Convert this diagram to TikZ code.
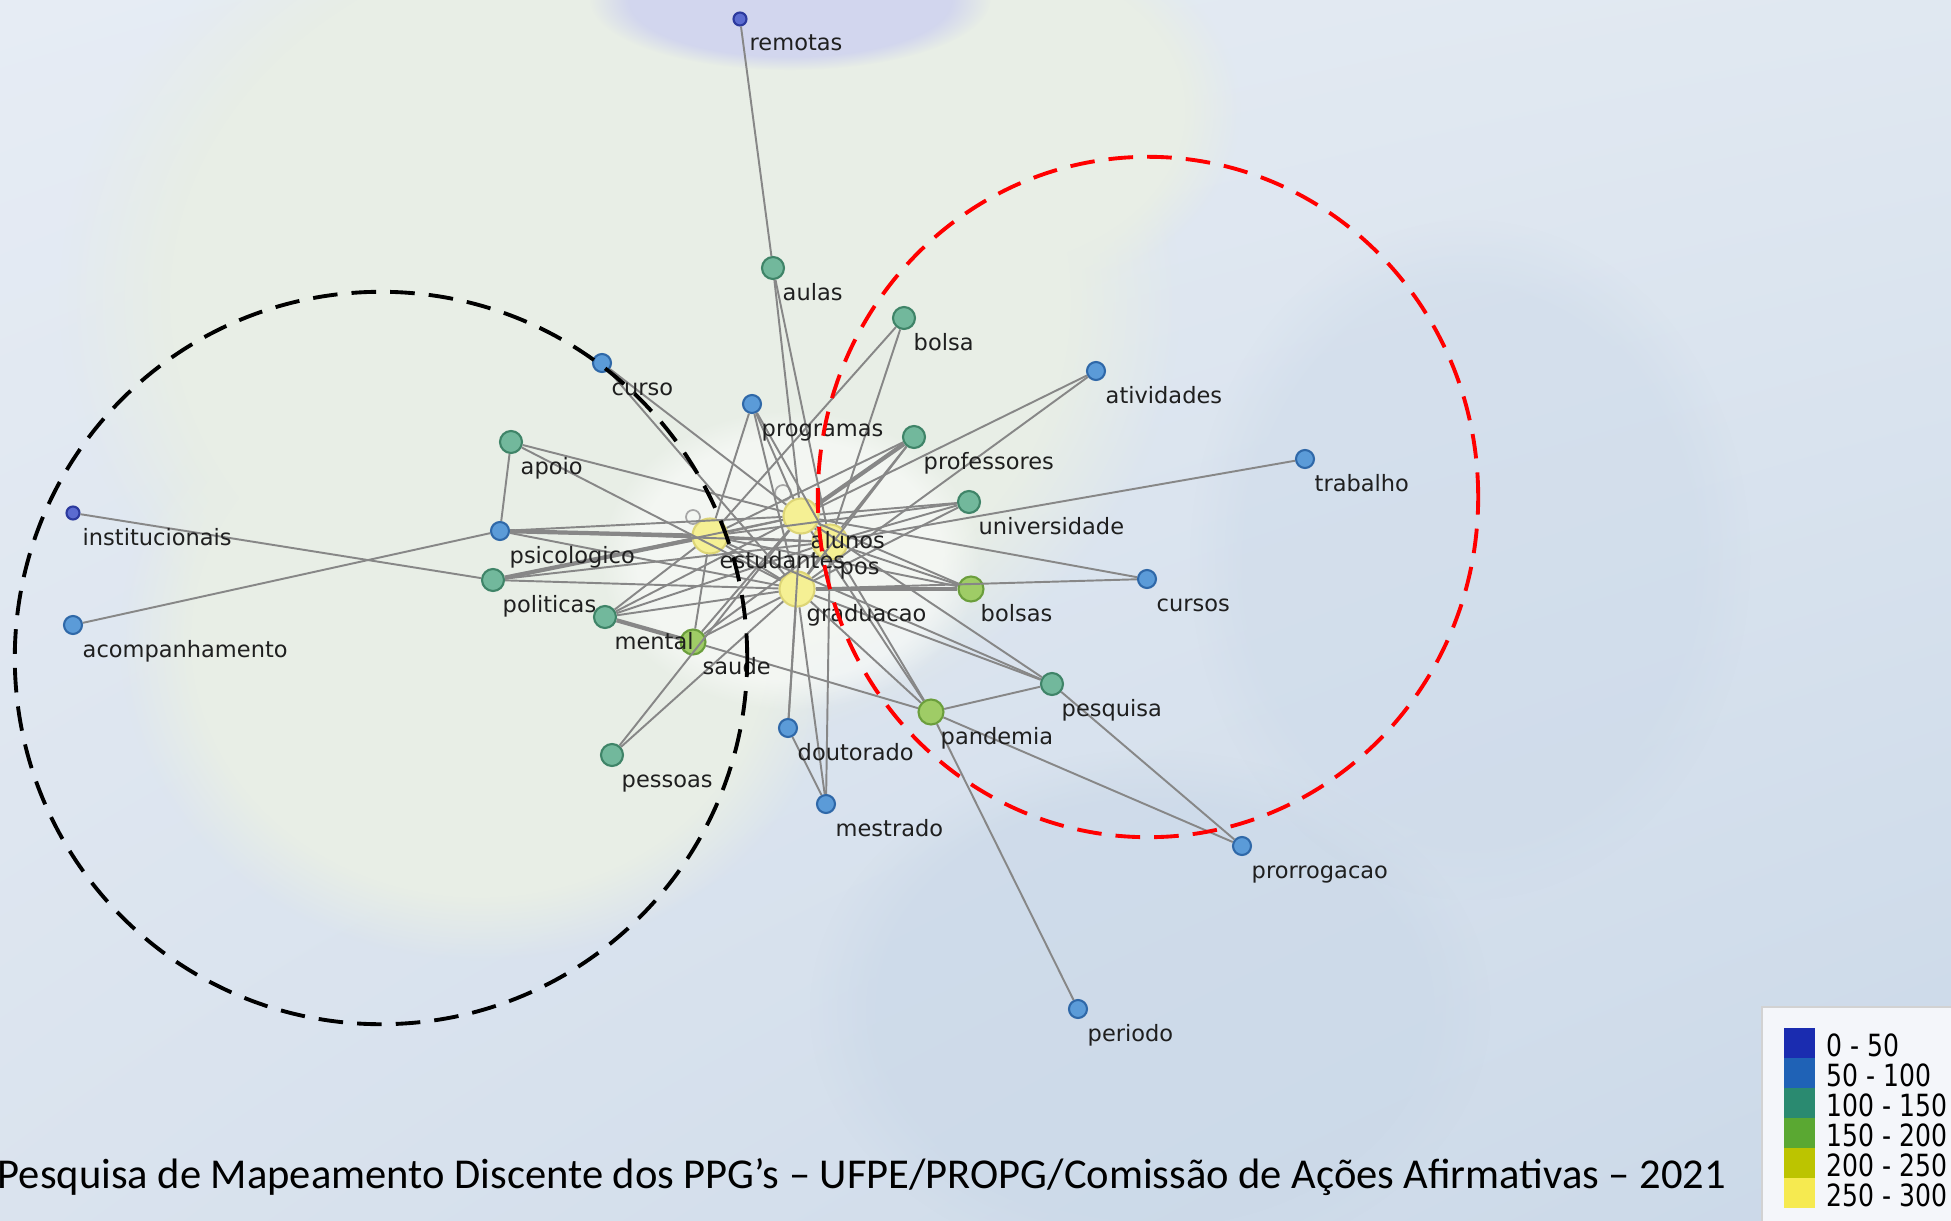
\documentclass[tikz,border=0pt]{standalone}
\usepackage{fontspec}
\setmainfont{DejaVu Sans}
\newfontfamily\capfont{Carlito}
\newfontfamily\legfont[FakeStretch=0.82]{DejaVu Sans}
\usetikzlibrary{fadings,shadings}

\definecolor{bgtl}{HTML}{E6ECF4}
\definecolor{bgtr}{HTML}{E0E8F1}
\definecolor{bgbl}{HTML}{DAE3EE}
\definecolor{bgbr}{HTML}{CAD8E8}
\definecolor{cloud}{HTML}{E8EEE6}
\definecolor{topblob}{HTML}{D2D6EE}
\definecolor{edgegray}{HTML}{878787}
\definecolor{c0}{HTML}{5B6BD0}\definecolor{d0}{HTML}{2C3A9E}
\definecolor{c1}{HTML}{5B9BD8}\definecolor{d1}{HTML}{2F68A8}
\definecolor{c2}{HTML}{72B89C}\definecolor{d2}{HTML}{3F8468}
\definecolor{c3}{HTML}{9FCC66}\definecolor{d3}{HTML}{6B9E3C}
\definecolor{c5}{HTML}{F6EF84}\definecolor{d5}{HTML}{DDD576}
\definecolor{lg1}{HTML}{1A2CB0}
\definecolor{lg2}{HTML}{1F62B6}
\definecolor{lg3}{HTML}{2A8A70}
\definecolor{lg4}{HTML}{5AA832}
\definecolor{lg5}{HTML}{BCC400}
\definecolor{lg6}{HTML}{F6EA50}

\tikzset{
  vtx/.style={circle, inner sep=0pt, line width=0.6pt},
  n0/.style={vtx, fill=c0, draw=d0, minimum size=0.13cm},
  n1/.style={vtx, fill=c1, draw=d1, minimum size=0.18cm},
  n2/.style={vtx, fill=c2, draw=d2, minimum size=0.22cm},
  n3/.style={vtx, fill=c3, draw=d3, minimum size=0.25cm},
  n5/.style={vtx, fill=c5, draw=d5, fill opacity=0.85, minimum size=0.35cm},
  edge/.style={draw=edgegray, line width=0.55pt},
  edgeb/.style={draw=edgegray, line width=1.2pt},
  loopc/.style={draw=gray!70, line width=0.5pt},
  lbl/.style={anchor=base west, inner sep=0pt, text=black!88, font=\fontsize{6.4}{7.5}\selectfont},
  ring/.style={line width=1.1pt, dash pattern=on 7pt off 4pt},
  blob/.style={path fading=circle with fuzzy edge 20 percent}
}

\begin{document}
\begin{tikzpicture}[x=0.01cm, y=-0.01cm]
\useasboundingbox (0,0) rectangle (1951,1221);
\clip (0,0) rectangle (1951,1221);

% background map
\shade[upper left=bgtl, upper right=bgtr, lower left=bgbl, lower right=bgbr] (0,0) rectangle (1951,1221);
\fill[bgbr, opacity=0.6, blob] (1150,1010) ellipse (3.4cm and 2.6cm);
\fill[bgbr, opacity=0.4, blob] (1470,560) ellipse (2.8cm and 3.4cm);
\fill[cloud, blob] (620,300) ellipse (5.6cm and 4.6cm);
\fill[cloud, blob] (480,640) ellipse (3.6cm and 3.2cm);
\fill[cloud, blob] (960,110) ellipse (2.8cm and 2.0cm);
\fill[white, opacity=0.5, blob] (790,560) ellipse (1.9cm and 1.5cm);
\fill[topblob, blob] (790,0) ellipse (2.0cm and 0.7cm);

% vertices
\foreach \n/\x/\y/\s in {remotas/740/19/n0, aulas/773/268/n2, bolsa/904/318/n2,
    curso/602/363/n1, atividades/1096/371/n1, programas/752/404/n1, apoio/511/442/n2,
    professores/914/437/n2, trabalho/1305/459/n1, universidade/969/502/n2,
    institucionais/73/513/n0, psicologico/500/531/n1, politicas/493/580/n2,
    cursos/1147/579/n1, bolsas/971/589/n3, acompanhamento/73/625/n1,
    mental/605/617/n2, saude/693/642/n3, pesquisa/1052/684/n2, pandemia/931/712/n3,
    doutorado/788/728/n1, pessoas/612/755/n2, mestrado/826/804/n1,
    prorrogacao/1242/846/n1, periodo/1078/1009/n1,
    estudantes/710/536/n5, pos/830/542/n5, alunos/801/516/n5, graduacao/797/589/n5}
  \node[\s] (\n) at (\x,\y) {};

% small loops
\draw[loopc] ([shift={(-17,-19)}]estudantes.center) circle (0.07cm);
\draw[loopc] ([shift={(-18,-23)}]alunos.center) circle (0.08cm);

% links
\foreach \a/\b in {remotas/aulas, aulas/alunos, aulas/pos, bolsa/estudantes, bolsa/pos,
    curso/alunos, curso/graduacao, programas/alunos, programas/estudantes, programas/pos,
    programas/graduacao, apoio/psicologico, apoio/alunos, apoio/graduacao,
    professores/estudantes, professores/pos, professores/graduacao,
    atividades/alunos, atividades/graduacao, universidade/estudantes, universidade/alunos,
    universidade/pos, universidade/graduacao, trabalho/pos, cursos/alunos, cursos/graduacao,
    bolsas/estudantes, bolsas/alunos, bolsas/pos, institucionais/politicas,
    acompanhamento/psicologico, psicologico/alunos, psicologico/pos, psicologico/graduacao,
    politicas/alunos, politicas/pos, politicas/graduacao, mental/estudantes, mental/alunos,
    mental/pos, mental/graduacao, saude/estudantes, saude/alunos, saude/pos, saude/graduacao,
    saude/pandemia, pessoas/alunos, pessoas/graduacao, doutorado/graduacao, doutorado/alunos,
    doutorado/mestrado, mestrado/graduacao, mestrado/pos, pandemia/alunos, pandemia/pos,
    pandemia/graduacao, pandemia/pesquisa, pandemia/prorrogacao, pandemia/periodo,
    pesquisa/estudantes, pesquisa/alunos, pesquisa/graduacao, pesquisa/prorrogacao,
    estudantes/alunos, estudantes/pos, estudantes/graduacao, alunos/pos, alunos/graduacao,
    pos/graduacao}
  \draw[edge] (\a) -- (\b);
\foreach \a/\b in {mental/saude, professores/alunos, psicologico/estudantes,
    bolsas/graduacao, politicas/estudantes}
  \draw[edgeb] (\a) -- (\b);

% labels
\foreach \n in {remotas, aulas, bolsa, curso, atividades, programas, apoio, professores,
    trabalho, universidade, institucionais, psicologico, politicas, cursos, bolsas,
    acompanhamento, mental, saude, pesquisa, pandemia, doutorado, pessoas, mestrado,
    prorrogacao, periodo, estudantes, alunos, pos, graduacao}
  \node[lbl] at ([shift={(9,32)}]\n.center) {\n};

% groups
\draw[ring, black] (381,658) circle (3.66cm);
\draw[ring, red] (1148,497) ellipse (3.30cm and 3.40cm);

% legend
\draw[fill=white!55!bgtl, draw=gray!35, line width=0.5pt] (1762,1007) rectangle (1990,1250);
\foreach \c/\t [count=\i] in {lg1/0 - 50, lg2/50 - 100, lg3/100 - 150, lg4/150 - 200,
    lg5/200 - 250, lg6/250 - 300} {
  \fill[\c] (1784,998+30*\i) rectangle (1815,1028+30*\i);
  \node[anchor=west, inner sep=0pt, font=\legfont\fontsize{8.7}{9}\selectfont]
    at (1826,1015+30*\i) {\t};
}

% source line
\node[anchor=base west, inner sep=0pt, font=\capfont\fontsize{12.1}{14}\selectfont]
  at (-3,1188) {Pesquisa de Mapeamento Discente dos PPG’s – UFPE/PROPG/Comissão de Ações Afirmativas – 2021};
\end{tikzpicture}
\end{document}
